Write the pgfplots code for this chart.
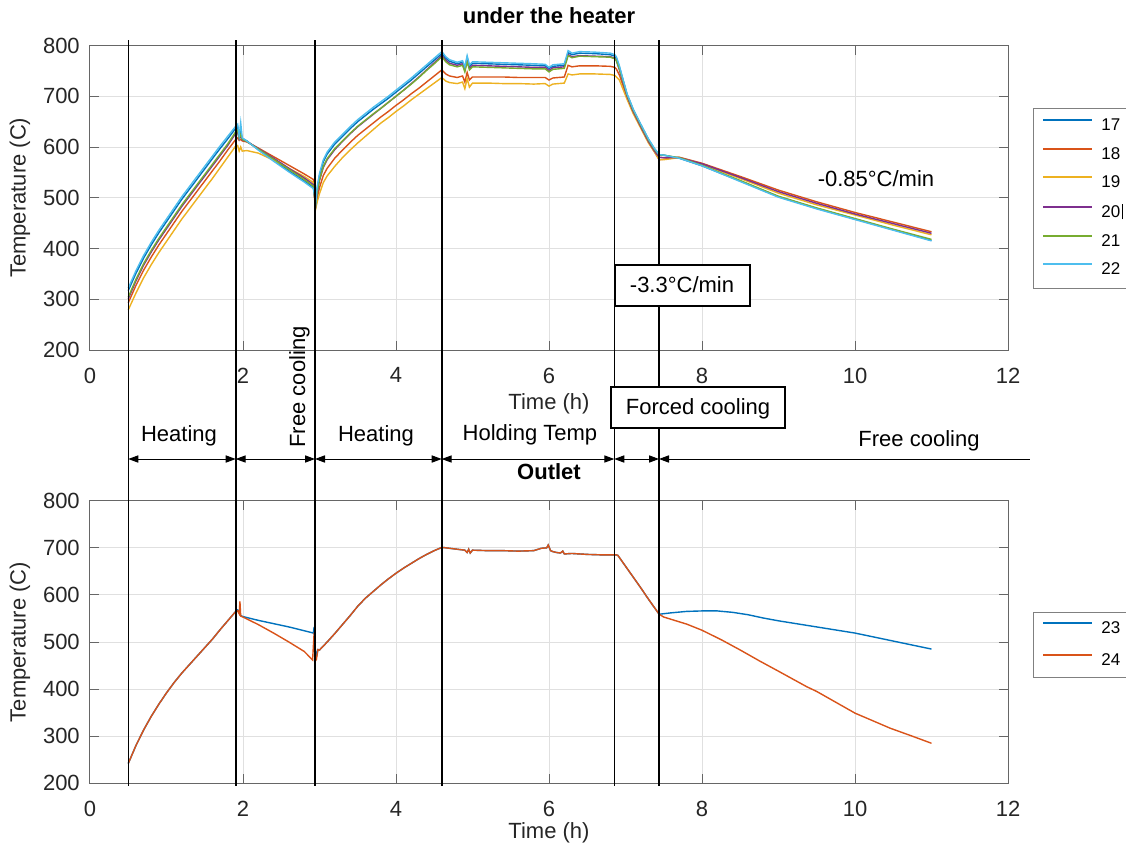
\documentclass[border=0pt]{standalone}
\usepackage{fontspec}
\setmainfont{Liberation Sans}
\usepackage{pgfplots}
\pgfplotsset{compat=1.18}
\usetikzlibrary{arrows.meta}
\definecolor{c1}{rgb}{0,0.447,0.741}
\definecolor{c2}{rgb}{0.85,0.325,0.098}
\definecolor{c3}{rgb}{0.929,0.694,0.125}
\definecolor{c4}{rgb}{0.494,0.184,0.556}
\definecolor{c5}{rgb}{0.466,0.674,0.188}
\definecolor{c6}{rgb}{0.301,0.745,0.933}
\pgfplotsset{
  every axis title shift=0pt,
  mystyle/.style={
    scale only axis, width=459pt,
    xmin=0,xmax=12,ymin=200,ymax=800,
    xtick={0,2,...,12}, ytick={200,300,...,800},
    grid=major, major grid style={black!12,line width=0.5pt},
    axis line style={black!60, line width=0.5pt},
    tick style={black!60, line width=0.5pt},
    major tick length=4.5pt,
    tick align=inside,
    xtick pos=both, ytick pos=both,
    ticklabel style={font=\fontsize{11}{13}\selectfont, text=black!85},
    /pgf/number format/assume math mode=true,
    xticklabel style={yshift=-5.3pt},
    yticklabel style={xshift=-1.6pt},
    label style={font=\fontsize{11}{13}\selectfont, text=black!85},
    title style={font=\bfseries\fontsize{11}{13}\selectfont},
    xlabel={Time (h)}, ylabel={Temperature (C)},
    ylabel style={at={(axis description cs:-0.0762,0.5)}, anchor=center},
    every axis plot/.append style={line width=0.7pt},
    legend cell align=left,
    legend image code/.code={\draw[#1,line width=1pt] (0pt,3pt) -- (24.5pt,3pt); \path (28.8pt,0pt);},
  }
}
\begin{document}
\begin{tikzpicture}
\useasboundingbox (0,0) rectangle (563pt,-426pt);
\clip (0,0) rectangle (563pt,-426pt);
\begin{axis}[mystyle, at={(45pt,-175pt)}, anchor=south west, height=152.25pt,
  title={under the heater},
  title style={at={(axis description cs:0.5,1.0969)}, anchor=center},
  xlabel style={at={(axis description cs:0.5,-0.1773)}, anchor=center},
  legend style={at={(1.02756,0.79376)}, anchor=north west, draw=black!50, fill=white,
    font=\fontsize{8.5}{10}\selectfont, inner xsep=4.2pt, inner ysep=5.2pt, row sep=6.8pt,
    nodes={inner sep=0pt}, /tikz/column sep=0pt},
  legend entries={17,18,19,{20\kern0.6pt\rule[-0.8pt]{0.5pt}{7.5pt}},21,22}
]
% 17
\addplot[c1] table {
0.50 317
0.60 351
0.70 381
0.80 407
0.90 431
1.00 453
1.10 475
1.20 497
1.30 517
1.40 537
1.50 557
1.60 577
1.70 597
1.80 616
1.90 636
1.93 640
1.95 620
1.97 630
1.99 617
2.05 612
2.20 595
2.40 574
2.60 553
2.80 533
2.92 520
2.94 498
2.95 487
2.97 518
3.00 544
3.05 571
3.10 586
3.20 606
3.30 621
3.40 636
3.50 650
3.60 662
3.70 674
3.80 685
3.90 696
4.00 708
4.10 720
4.20 732
4.30 745
4.40 758
4.50 771
4.60 784
4.65 775
4.70 769
4.80 764
4.87 767
4.90 755
4.93 776
4.96 759
5.00 765
5.20 764
5.40 763
5.60 762
5.80 761
5.95 760
6.00 755
6.05 759
6.20 761
6.25 786
6.30 782
6.40 785
6.60 784
6.80 782
6.86 779
6.88 775
6.92 758
6.97 731
7.02 704
7.10 674
7.20 644
7.30 615
7.38 596
7.44 585
7.50 584
7.70 578
8.00 563
8.50 533
9.00 502
9.50 479
10.00 458
10.50 437
11.00 416
};
% 18
\addplot[c2] table {
0.50 293
0.60 327
0.70 357
0.80 383
0.90 407
1.00 429
1.10 451
1.20 473
1.30 493
1.40 513
1.50 533
1.60 553
1.70 573
1.80 594
1.90 614
1.93 618
1.95 613
1.97 615
1.99 612
2.05 610
2.20 598
2.40 581
2.60 564
2.80 547
2.92 536
2.94 494
2.95 483
2.97 500
3.00 520
3.05 544
3.10 558
3.20 578
3.30 594
3.40 609
3.50 623
3.60 635
3.70 647
3.80 659
3.90 670
4.00 682
4.10 693
4.20 705
4.30 716
4.40 728
4.50 740
4.60 752
4.65 744
4.70 740
4.80 737
4.87 740
4.90 728
4.93 747
4.96 732
5.00 738
5.20 738
5.40 738
5.60 737
5.80 737
5.95 737
6.00 732
6.05 736
6.20 738
6.25 761
6.30 758
6.40 760
6.60 760
6.80 759
6.86 757
6.88 754
6.92 742
6.97 720
7.02 698
7.10 669
7.20 639
7.30 610
7.38 590
7.44 575
7.50 576
7.70 580
8.00 568
8.50 542
9.00 515
9.50 492
10.00 471
10.50 452
11.00 433
};
% 19
\addplot[c3] table {
0.50 279
0.60 312
0.70 342
0.80 368
0.90 392
1.00 414
1.10 436
1.20 458
1.30 478
1.40 498
1.50 518
1.60 538
1.70 559
1.80 580
1.90 601
1.93 603
1.95 592
1.97 600
1.99 592
2.05 593
2.20 588
2.40 574
2.60 558
2.80 542
2.92 530
2.94 490
2.95 478
2.97 492
3.00 508
3.05 530
3.10 543
3.20 562
3.30 579
3.40 594
3.50 608
3.60 621
3.70 634
3.80 647
3.90 658
4.00 670
4.10 681
4.20 693
4.30 704
4.40 715
4.50 726
4.60 737
4.65 730
4.70 727
4.80 725
4.87 728
4.90 715
4.93 735
4.96 718
5.00 726
5.20 726
5.40 725
5.60 725
5.80 724
5.95 725
6.00 720
6.05 724
6.20 726
6.25 744
6.30 742
6.40 744
6.60 744
6.80 743
6.86 741
6.88 738
6.92 732
6.97 713
7.02 694
7.10 666
7.20 637
7.30 608
7.38 590
7.44 575
7.50 575
7.70 579
8.00 566
8.50 538
9.00 509
9.50 486
10.00 466
10.50 446
11.00 427
};
% 20
\addplot[c4] table {
0.50 301
0.60 336
0.70 367
0.80 393
0.90 417
1.00 439
1.10 461
1.20 483
1.30 503
1.40 523
1.50 543
1.60 563
1.70 583
1.80 603
1.90 626
1.93 629
1.95 616
1.97 622
1.99 614
2.05 611
2.20 597
2.40 578
2.60 558
2.80 539
2.92 526
2.94 496
2.95 485
2.97 510
3.00 534
3.05 560
3.10 575
3.20 595
3.30 611
3.40 626
3.50 640
3.60 652
3.70 664
3.80 676
3.90 688
4.00 700
4.10 712
4.20 725
4.30 738
4.40 752
4.50 766
4.60 780
4.65 771
4.70 765
4.80 761
4.87 764
4.90 752
4.93 771
4.96 755
5.00 761
5.20 760
5.40 759
5.60 758
5.80 757
5.95 757
6.00 751
6.05 756
6.20 758
6.25 782
6.30 778
6.40 780
6.60 779
6.80 778
6.86 775
6.88 771
6.92 752
6.97 726
7.02 700
7.10 670
7.20 640
7.30 611
7.38 592
7.44 580
7.50 579
7.70 579
8.00 567
8.50 540
9.00 512
9.50 489
10.00 468
10.50 449
11.00 430
};
% 21
\addplot[c5] table {
0.50 304
0.60 339
0.70 370
0.80 396
0.90 420
1.00 442
1.10 464
1.20 486
1.30 506
1.40 526
1.50 546
1.60 566
1.70 586
1.80 606
1.90 629
1.93 633
1.95 618
1.97 625
1.99 615
2.05 611
2.20 596
2.40 576
2.60 556
2.80 536
2.92 523
2.94 497
2.95 486
2.97 512
3.00 536
3.05 562
3.10 577
3.20 597
3.30 612
3.40 627
3.50 641
3.60 653
3.70 665
3.80 676
3.90 688
4.00 700
4.10 712
4.20 724
4.30 737
4.40 751
4.50 764
4.60 778
4.65 768
4.70 762
4.80 758
4.87 761
4.90 748
4.93 768
4.96 752
5.00 758
5.20 757
5.40 756
5.60 755
5.80 754
5.95 754
6.00 748
6.05 753
6.20 755
6.25 780
6.30 776
6.40 779
6.60 778
6.80 777
6.86 774
6.88 770
6.92 754
6.97 729
7.02 703
7.10 673
7.20 643
7.30 614
7.38 595
7.44 584
7.50 584
7.70 579
8.00 564
8.50 534
9.00 503
9.50 480
10.00 459
10.50 438
11.00 418
};
% 22
\addplot[c6] table {
0.50 322
0.60 356
0.70 386
0.80 412
0.90 436
1.00 458
1.10 480
1.20 502
1.30 522
1.40 542
1.50 562
1.60 582
1.70 602
1.80 621
1.90 640
1.93 645
1.95 622
1.97 648
1.99 618
2.05 612
2.20 594
2.40 572
2.60 551
2.80 531
2.92 518
2.94 500
2.95 488
2.97 522
3.00 548
3.05 575
3.10 590
3.20 610
3.30 625
3.40 640
3.50 654
3.60 666
3.70 678
3.80 689
3.90 700
4.00 712
4.10 724
4.20 736
4.30 749
4.40 762
4.50 775
4.60 788
4.65 778
4.70 772
4.80 767
4.87 770
4.90 758
4.93 780
4.96 762
5.00 768
5.20 767
5.40 766
5.60 765
5.80 764
5.95 763
6.00 757
6.05 762
6.20 764
6.25 790
6.30 785
6.40 788
6.60 787
6.80 785
6.86 782
6.88 778
6.92 760
6.97 732
7.02 705
7.10 675
7.20 645
7.30 616
7.38 597
7.44 585
7.50 584
7.70 578
8.00 563
8.50 532
9.00 501
9.50 478
10.00 457
10.50 436
11.00 415
};
\end{axis}
\begin{axis}[mystyle, at={(45pt,-391.65pt)}, anchor=south west, height=141.3pt,
  title={Outlet},
  title style={at={(axis description cs:0.5,1.1016)}, anchor=center},
  xlabel style={at={(axis description cs:0.5,-0.176)}, anchor=center},
  legend style={at={(1.02756,0.6051)}, anchor=north west, draw=black!50, fill=white,
    font=\fontsize{8.5}{10}\selectfont, inner xsep=4.2pt, inner ysep=4.6pt, row sep=8.3pt,
    nodes={inner sep=0pt}, /tikz/column sep=0pt},
  legend entries={23,24}
]
% 23
\addplot[c1] table {
0.50 242
0.60 280
0.70 313
0.80 342
0.90 368
1.00 392
1.10 414
1.20 434
1.30 452
1.40 470
1.50 488
1.60 506
1.70 526
1.80 545
1.90 564
1.93 568
1.95 566
1.97 556
2.00 554
2.20 546
2.40 539
2.60 532
2.80 524
2.92 519
2.93 532
2.94 490
2.96 470
2.98 484
3.00 483
3.10 500
3.20 518
3.30 537
3.40 556
3.50 576
3.60 593
3.70 607
3.80 621
3.90 634
4.00 646
4.10 657
4.20 667
4.30 677
4.40 686
4.50 694
4.60 701
4.70 699
4.80 697
4.90 695
4.93 690
4.95 697
4.97 689
5.00 695
5.20 694
5.40 694
5.60 693
5.80 694
5.90 699
5.97 700
5.99 706
6.02 694
6.05 692
6.10 690
6.15 689
6.18 693
6.20 687
6.30 688
6.50 686
6.70 685
6.88 685
6.90 684
7.00 661
7.10 638
7.20 615
7.30 591
7.44 559
7.60 562
7.80 565
8.00 566
8.20 566
8.40 563
8.60 558
8.80 551
9.00 545
9.50 532
10.00 519
10.50 502
11.00 485
};
% 24
\addplot[c2] table {
0.50 242
0.60 280
0.70 313
0.80 342
0.90 368
1.00 392
1.10 414
1.20 434
1.30 452
1.40 470
1.50 488
1.60 506
1.70 526
1.80 545
1.90 564
1.93 566
1.95 560
1.96 586
1.97 555
2.00 553
2.20 537
2.40 519
2.60 500
2.80 480
2.91 462
2.93 520
2.94 470
2.96 464
2.98 484
3.00 483
3.10 500
3.20 518
3.30 537
3.40 556
3.50 576
3.60 593
3.70 607
3.80 621
3.90 634
4.00 646
4.10 657
4.20 667
4.30 677
4.40 686
4.50 694
4.60 701
4.70 699
4.80 697
4.90 695
4.93 690
4.95 697
4.97 689
5.00 695
5.20 694
5.40 694
5.60 693
5.80 694
5.90 699
5.97 700
5.99 706
6.02 694
6.05 692
6.10 690
6.15 689
6.18 693
6.20 687
6.30 688
6.50 686
6.70 685
6.88 685
6.90 684
7.00 661
7.10 638
7.20 615
7.30 591
7.44 559
7.50 553
7.62 547
7.80 538
8.00 525
8.25 505
8.50 483
8.75 460
9.00 438
9.37 405
9.50 395
10.00 349
10.46 317
10.75 300
11.00 285
};
\end{axis}
\begin{scope}[x=0.5pt,y=-0.5pt]
  \foreach \xx in {128.3,235.7,315,441.7,614.3,659}{
    \draw[black,line width=0.8pt] (\xx,40) -- (\xx,786);
  }
  \begin{scope}[line width=0.5pt, >={Triangle[length=5pt,width=3.6pt]}]
    \draw[<->] (128.3,459) -- (235.7,459);
    \draw[<->] (235.7,459) -- (315,459);
    \draw[<->] (315,459) -- (441.7,459);
    \draw[<->] (441.7,459) -- (614.3,459);
    \draw[<->] (614.3,459) -- (659,459);
    \draw[<-] (659,459) -- (1030,459);
  \end{scope}
  \begin{scope}[every node/.style={font=\fontsize{11}{13}\selectfont, inner sep=0pt}]
    \node[anchor=base] at (179,441.7) {Heating};
    \node[anchor=base] at (376,441.7) {Heating};
    \node[anchor=base] at (530,440.5) {Holding Temp};
    \node[anchor=base] at (919,446) {Free cooling};
    \node[anchor=base, rotate=90] at (305,387) {Free cooling};
    \draw[fill=white, line width=0.75pt] (611,387) rectangle (785,428);
    \node[anchor=base] at (698,414.3) {Forced cooling};
    \draw[fill=white, line width=0.75pt] (615,265) rectangle (750,306);
    \node[anchor=base] at (682,292.7) {-3.3°C/min};
    \node[anchor=base] at (876,186.7) {-0.85°C/min};
  \end{scope}
\end{scope}
\end{tikzpicture}
\end{document}
